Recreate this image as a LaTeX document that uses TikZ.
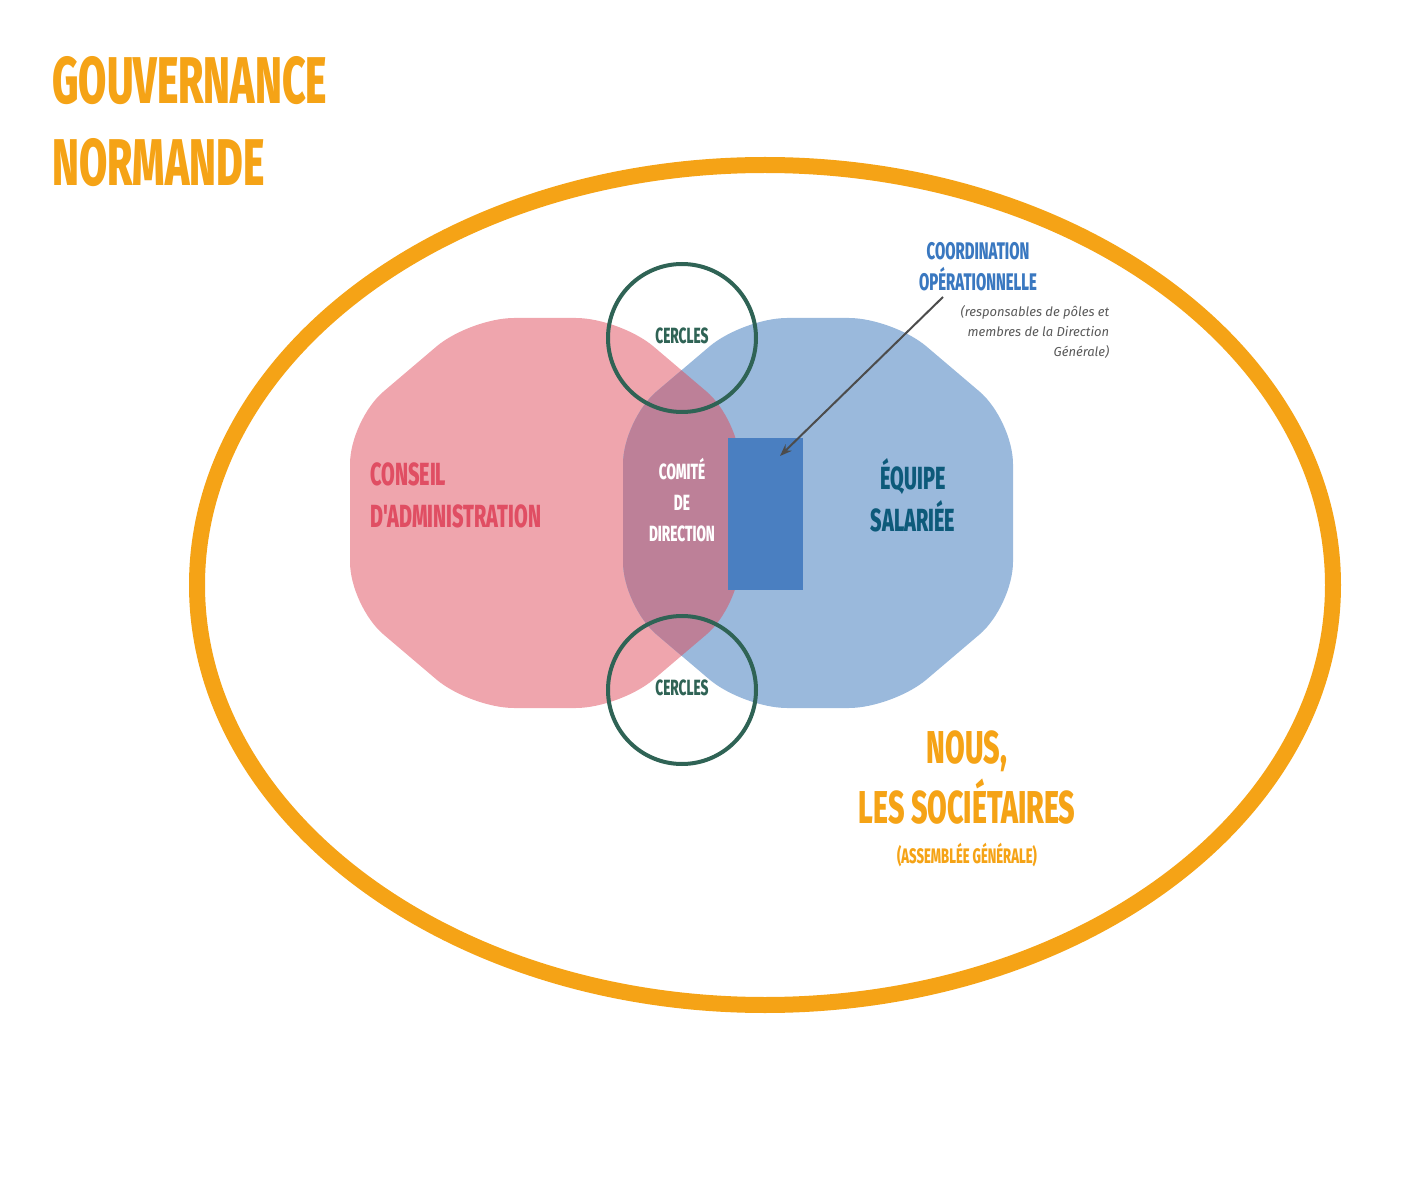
\documentclass[tikz,border=0pt]{standalone}
\usepackage{fontspec}
\setmainfont{Fira Sans}
\newfontfamily\cond[FakeStretch=0.72]{Fira Sans}
\newfontfamily\condb[FakeStretch=0.62,BoldFont={Fira Sans ExtraBold}]{Fira Sans}
\newfontfamily\ital{Roboto}
\usetikzlibrary{arrows.meta}
\definecolor{org}{HTML}{F5A316}
\definecolor{pinkc}{HTML}{EFA5AD}
\definecolor{bluec}{HTML}{9AB9DC}
\definecolor{mauve}{HTML}{BD8098}
\definecolor{rectb}{HTML}{4A7FC1}
\definecolor{grn}{HTML}{2F6355}
\definecolor{redt}{HTML}{E04E63}
\definecolor{teal}{HTML}{0D5A7A}
\definecolor{coord}{HTML}{3A78C0}
\tikzset{
 lbl/.style={font=\condb\bfseries, align=center, inner sep=0pt},
 circ/.style={draw=grn, line width=2pt, circle, minimum size=74pt, inner sep=0pt},
}
\begin{document}
\begin{tikzpicture}[x=0.5pt,y=-0.5pt]
\useasboundingbox (0,0) rectangle (1410,1182);
\draw[org, line width=8pt] (765,585) ellipse [x radius=568, y radius=420];
\def\octA{(470,318) -- (620,318) -- (740,420) -- (740,606) -- (620,708) -- (470,708) -- (350,606) -- (350,420) -- cycle}
\def\octB{(743,318) -- (893,318) -- (1013,420) -- (1013,606) -- (893,708) -- (743,708) -- (623,606) -- (623,420) -- cycle}
\fill[pinkc, rounded corners=22pt] (470,318) -- (620,318) -- (740,420) -- (740,606) -- (620,708) -- (470,708) -- (350,606) -- (350,420) -- cycle;
\fill[bluec, rounded corners=22pt] (743,318) -- (893,318) -- (1013,420) -- (1013,606) -- (893,708) -- (743,708) -- (623,606) -- (623,420) -- cycle;
\begin{scope}
\clip[rounded corners=22pt] (470,318) -- (620,318) -- (740,420) -- (740,606) -- (620,708) -- (470,708) -- (350,606) -- (350,420) -- cycle;
\fill[mauve, rounded corners=22pt] (743,318) -- (893,318) -- (1013,420) -- (1013,606) -- (893,708) -- (743,708) -- (623,606) -- (623,420) -- cycle;
\end{scope}
\node[fill=rectb, minimum width=37.5pt, minimum height=76pt, inner sep=0pt] (rect) at (765.5,514) {};
\node[circ] (c1) at (682,338) {};
\node[circ] (c2) at (682,690) {};
\node[lbl, text=grn, font=\condb\bfseries\fontsize{11}{13}\selectfont] (t1) at (682,336) {CERCLES};
\node[lbl, text=grn, font=\condb\bfseries\fontsize{11}{13}\selectfont] (t2) at (682,688) {CERCLES};
\node[lbl, text=white, font=\condb\bfseries\fontsize{11}{15.5}\selectfont] (cd) at (682,500) {COMITÉ\\DE\\DIRECTION};
\node[lbl, text=redt, align=left, anchor=west, font=\condb\bfseries\fontsize{16}{21}\selectfont] (ca) at (370,495) {CONSEIL\\D'ADMINISTRATION};
\node[lbl, text=teal, font=\condb\bfseries\fontsize{16}{21}\selectfont] (es) at (913,495) {ÉQUIPE\\SALARIÉE};
\node[lbl, text=coord, font=\condb\bfseries\fontsize{12}{15.5}\selectfont] (co) at (978,267) {COORDINATION\\OPÉRATIONNELLE};
\node[align=right, inner sep=0pt, text=black!65, font=\itshape\fontsize{6.5}{10}\selectfont] (rp) at (1035,332) {(responsables de pôles et\\membres de la Direction\\Générale)};
\coordinate (ae) at (943,297);
\coordinate (ah) at (780,456);
\draw[black!70, line width=1pt, -{Stealth[length=6pt]}] (ae) -- (ah);
\node[lbl, text=org, align=left, anchor=north west, font=\condb\bfseries\fontsize{33}{41}\selectfont] (title) at (52,56) {GOUVERNANCE\\NORMANDE};
\node[lbl, text=org, font=\condb\bfseries\fontsize{23}{30}\selectfont] (nous) at (967,778) {NOUS,\\LES SOCIÉTAIRES};
\node[lbl, text=org, font=\condb\bfseries\fontsize{10.5}{12}\selectfont] (ag) at (967,855) {(ASSEMBLÉE GÉNÉRALE)};
\end{tikzpicture}
\end{document}
